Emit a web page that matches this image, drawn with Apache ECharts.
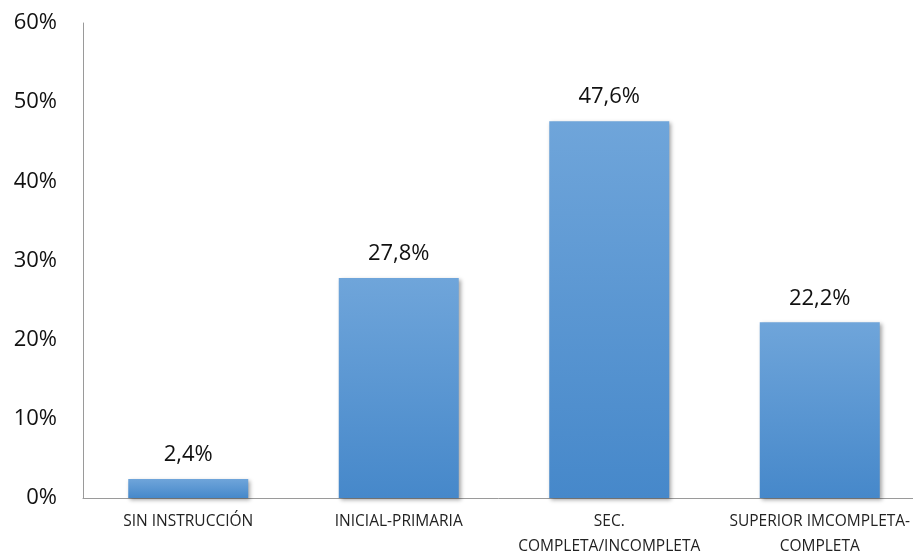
<!DOCTYPE html>
<html>
<head>
<meta charset="utf-8">
<script src="https://cdn.jsdelivr.net/npm/echarts@6/dist/echarts.min.js"></script>
<style>
  html, body { margin: 0; padding: 0; background: #fff; }
  #chart { width: 913px; height: 556px; }
</style>
</head>
<body>
<div id="chart"></div>
<script>
// Education level shares (percent)
const categories = ['SIN INSTRUCCIÓN', 'INICIAL-PRIMARIA', 'SEC.\nCOMPLETA/INCOMPLETA', 'SUPERIOR IMCOMPLETA-\nCOMPLETA'];
const values = [2.4, 27.8, 47.6, 22.2];
const yTicks = [0, 10, 20, 30, 40, 50, 60];

const font = '"Open Sans", "Noto Sans", sans-serif';
const chart = echarts.init(document.getElementById('chart'));

chart.setOption({
  animation: false,
  grid: { left: 83, top: 23, right: -12, bottom: 58, containLabel: false, outerBoundsMode: 'none' },
  xAxis: {
    type: 'category',
    data: categories,
    axisLine: { lineStyle: { color: '#9a9a9a', width: 1 } },
    axisTick: { show: false },
    axisLabel: {
      color: '#222', fontFamily: font, fontSize: 15.5, lineHeight: 25,
      margin: 11, interval: 0
    }
  },
  yAxis: {
    type: 'value',
    min: yTicks[0],
    max: yTicks[yTicks.length - 1],
    interval: 10,
    axisLine: { show: true, lineStyle: { color: '#9a9a9a', width: 1 } },
    axisTick: { show: false },
    splitLine: { show: false },
    axisLabel: {
      color: '#111', fontFamily: font, fontSize: 22, margin: 26,
      formatter: v => v + '%'
    }
  },
  series: [{
    type: 'bar',
    data: values,
    barWidth: 120,
    itemStyle: {
      color: new echarts.graphic.LinearGradient(0, 0, 0, 1, [
        { offset: 0, color: '#6fa5da' },
        { offset: 1, color: '#4688ca' }
      ]),
      shadowColor: 'rgba(0,0,0,0.35)',
      shadowBlur: 4,
      shadowOffsetX: 2,
      shadowOffsetY: 2
    },
    label: {
      show: true,
      position: 'top',
      distance: 13,
      color: '#111',
      fontFamily: font,
      fontSize: 22,
      formatter: p => p.value.toFixed(1).replace('.', ',') + '%'
    }
  }]
});
</script>
</body>
</html>
